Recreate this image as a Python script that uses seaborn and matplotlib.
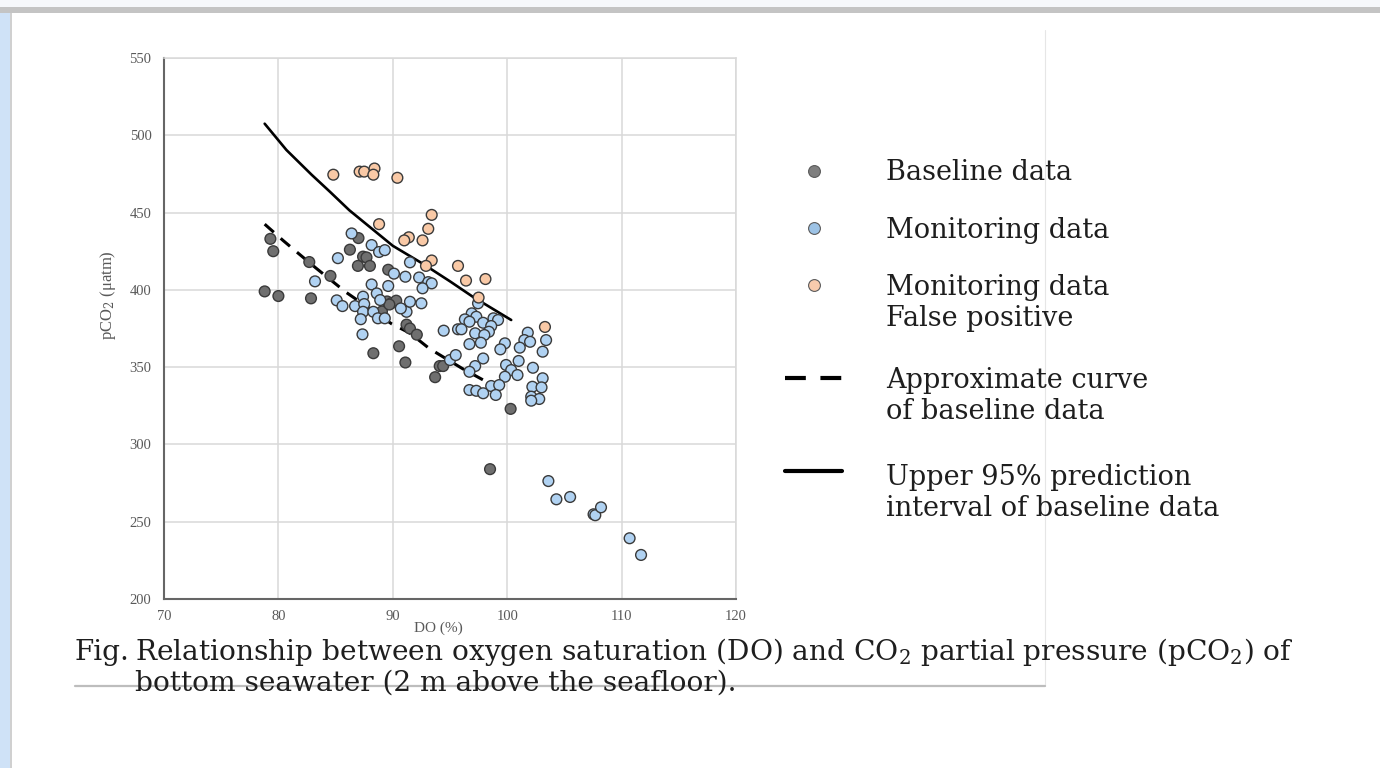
import numpy as np
import pandas as pd
import matplotlib
matplotlib.use("Agg")
import matplotlib.pyplot as plt
import seaborn as sns
from matplotlib.lines import Line2D
from matplotlib.patches import Rectangle

# ---------------- data ----------------
baseline_do = [78.8, 79.3, 79.55, 80.0, 82.7, 82.85, 84.55, 86.25, 87.0, 87.4,
               87.7, 86.95, 88.0, 89.6, 89.05, 89.5, 89.9, 90.3, 89.7, 91.2,
               91.5, 92.1, 90.55, 88.3, 91.1, 94.1, 94.4, 93.7, 98.5, 100.3]
baseline_pco2 = [399, 433, 425, 396, 418, 394.5, 409, 426, 433.5, 421.5,
                 421, 415.5, 415.5, 413, 386, 392.5, 391.5, 393, 390.5, 377.5,
                 375, 371, 363.5, 359, 353, 350.7, 350.7, 343.5, 284, 323]

monitor_do = [86.4, 88.15, 88.8, 89.3, 85.2, 83.2, 88.15, 89.6, 90.1, 88.6,
              87.4, 85.1, 91.5, 91.1, 92.3, 93.1, 93.4, 92.6, 85.6, 86.7,
              87.5, 87.4, 88.3, 87.2, 88.7, 89.3, 87.35, 88.9, 91.2, 91.5,
              92.5, 90.7, 94.45, 95.7, 95.0, 95.5, 97.45, 96.9, 97.3, 96.3,
              96.7, 97.9, 98.8, 99.2, 98.6, 96.0, 98.4, 97.2, 98.0, 97.7,
              96.7, 101.8, 101.5, 102.0, 103.4, 101.1, 103.1, 99.8, 99.4, 97.9,
              101.0, 97.2, 96.7, 99.9, 100.35, 100.9, 102.25, 99.8, 103.1, 102.2,
              103.0, 98.6, 99.3, 96.7, 97.3, 97.9, 99.0, 102.1, 102.8, 102.1,
              103.6, 104.3, 105.5, 107.55, 107.7, 108.2, 110.7, 111.7]
monitor_pco2 = [436.5, 429, 424.5, 425.7, 420.5, 405.5, 403.5, 402.5, 410.5, 397.7,
                395.6, 393.2, 417.8, 408.5, 408, 405, 404.2, 401, 389.5, 389.5,
                390.8, 385.8, 385.8, 381, 381.6, 381.6, 371.2, 393.4, 385.8, 392.3,
                391.3, 388, 373.6, 374.5, 354.6, 357.8, 391.3, 384.8, 382.6, 380.9,
                379.4, 378.7, 381.6, 380.5, 376.6, 374.5, 372.9, 371.9, 370.8, 365.8,
                364.9, 372.3, 367.5, 366.4, 367.5, 362.6, 360, 365.4, 361.5, 355.6,
                354, 350.7, 347, 351.4, 348.1, 344.9, 349.6, 343.8, 342.8, 337.3,
                336.9, 337.8, 338.4, 335.2, 334.7, 333.1, 332, 330.9, 329.4, 328.3,
                276.3, 264.5, 266, 254.8, 254.2, 259.3, 239.3, 228.5]

falsepos_do = [84.8, 87.1, 87.5, 88.4, 88.3, 90.4, 88.8, 93.4, 93.1, 91.4,
               91.0, 92.6, 93.4, 92.9, 95.7, 96.4, 98.1, 97.5, 103.3]
falsepos_pco2 = [474.5, 476.5, 476.5, 478.5, 474.5, 472.5, 442.5, 448.5, 439.5, 434,
                 432, 432, 419, 415.5, 415.5, 406, 407, 395, 376]

curve_do = [78.8, 80.4, 81.6, 83.3, 85.9, 89.9, 91.5, 93.2, 96.1, 97.9, 98.6]
curve_pco2 = [442.5, 432, 424.5, 414, 398.5, 378, 372, 362, 349, 341.7, 338.5]

upper_do = [78.8, 80.7, 82.9, 84.5, 86.2, 90.0, 92.6, 95.0, 97.0, 100.35]
upper_pco2 = [507.5, 490.5, 474.5, 463.5, 451.5, 428.5, 417, 405.5, 395.5, 380.5]

x_ticks = [70, 80, 90, 100, 110, 120]
y_ticks = [200, 250, 300, 350, 400, 450, 500, 550]

group_names = ["Baseline data", "Monitoring data", "Monitoring data\nFalse positive"]
legend_lines = ["Approximate curve\nof baseline data",
                "Upper 95% prediction\ninterval of baseline data"]

caption_fig = "Fig."
caption_1 = "Relationship between oxygen saturation (DO) and CO$_2$ partial pressure (pCO$_2$) of"
caption_2 = "bottom seawater (2 m above the seafloor)."

# ---------------- style ----------------
sns.set_theme(style="white")
plt.rcParams['font.family'] = ['DejaVu Serif']
plt.rcParams['mathtext.fontset'] = 'dejavuserif'

W, H = 1380, 768
fig = plt.figure(figsize=(W / 100, H / 100), dpi=100)
fig.patch.set_facecolor('white')


def fx(px):
    return px / W


def fy(py):
    return 1 - py / H


# page frame decorations
fig.add_artist(Rectangle((0, fy(7)), 1, 7 / H, transform=fig.transFigure,
                         color='#f6f8fb', lw=0, zorder=0))
fig.add_artist(Rectangle((0, fy(13)), 1, 6 / H, transform=fig.transFigure,
                         color='#c4c4c4', lw=0, zorder=0))
fig.add_artist(Rectangle((0, 0), 10 / W, fy(13), transform=fig.transFigure,
                         color='#cfe2f7', lw=0, zorder=0))
fig.add_artist(Rectangle((10 / W, 0), 2 / W, fy(13), transform=fig.transFigure,
                         color='#d0d0d0', lw=0, zorder=0))
fig.add_artist(Line2D([fx(1045), fx(1045)], [fy(30), fy(686)], transform=fig.transFigure,
                      color='#e6e6e6', lw=0.8, zorder=0))
fig.add_artist(Line2D([fx(75), fx(1045)], [fy(686), fy(686)], transform=fig.transFigure,
                      color='#bdbdbd', lw=1.6, zorder=0))

# ---------------- axes ----------------
ax = fig.add_axes([fx(164), fy(599), (736 - 164) / W, (599 - 58) / H])
ax.set_facecolor('white')

df = pd.DataFrame({
    'DO': baseline_do + monitor_do + falsepos_do,
    'pCO2': baseline_pco2 + monitor_pco2 + falsepos_pco2,
    'group': [group_names[0]] * len(baseline_do) + [group_names[1]] * len(monitor_do)
             + [group_names[2]] * len(falsepos_do),
})
palette = {group_names[0]: '#6f6f6f', group_names[1]: '#b0d2f2', group_names[2]: '#f9c9a6'}

sns.lineplot(x=curve_do, y=curve_pco2, ax=ax, color='black', lw=2.2,
             linestyle=(0, (4, 3)), estimator=None, sort=False, zorder=2)
sns.lineplot(x=upper_do, y=upper_pco2, ax=ax, color='black', lw=1.9,
             estimator=None, sort=False, zorder=2)
sns.scatterplot(data=df, x='DO', y='pCO2', hue='group', hue_order=group_names,
                palette=palette, s=60, edgecolor='#3a3a3a', linewidth=1.0,
                legend=False, ax=ax, zorder=3)

ax.set_xlim(70, 120)
ax.set_ylim(200, 550)
ax.set_xticks(x_ticks, labels=[str(t) for t in x_ticks], fontfamily='Liberation Serif')
ax.set_yticks(y_ticks, labels=[str(t) for t in y_ticks], fontfamily='Liberation Serif')
ax.tick_params(axis='both', length=0, labelsize=10.5, labelcolor='#595959')
ax.tick_params(axis='x', pad=8)
ax.tick_params(axis='y', pad=9)
ax.grid(True, color='#d9d9d9', lw=1.1)
ax.set_axisbelow(True)
for side in ['left', 'bottom']:
    ax.spines[side].set_color('#666666')
    ax.spines[side].set_linewidth(1.5)
for side in ['top', 'right']:
    ax.spines[side].set_color('#d9d9d9')
    ax.spines[side].set_linewidth(1.1)

ax.set_xlabel("DO (%)", fontfamily='Liberation Serif', fontsize=11, color='#595959')
ax.set_ylabel("pCO$_2$ (μatm)", fontfamily='Liberation Serif', fontsize=12, color='#595959')
ax.xaxis.set_label_coords((438 - 164) / 572, -(622 - 599) / 541)
ax.yaxis.set_label_coords((118 - 164) / 572, (599 - 295) / 541)

# ---------------- legend (drawn manually) ----------------
leg_fs = 19.5
txt_col = '#1e1e1e'
legend_marker_cols = ['#7f7f7f', '#9dc3e6', '#f8cbad']
marker_y = [171, 228, 285]
for col, my in zip(legend_marker_cols, marker_y):
    fig.add_artist(Line2D([fx(814)], [fy(my)], transform=fig.transFigure, marker='o',
                          markersize=8.5, markerfacecolor=col, markeredgecolor='#5a5a5a',
                          markeredgewidth=0.8, linestyle='none'))
fig.add_artist(Line2D([fx(785), fx(842)], [fy(378), fy(378)], transform=fig.transFigure,
                      color='black', lw=3.0, linestyle=(0, (5, 3.5))))
fig.add_artist(Line2D([fx(785), fx(842)], [fy(471), fy(471)], transform=fig.transFigure,
                      color='black', lw=3.0))

legend_text_rows = [
    (group_names[0], [180]),
    (group_names[1], [238]),
    (group_names[2], [295, 326]),
    (legend_lines[0], [388, 419]),
    (legend_lines[1], [485, 516]),
]
for label, baselines in legend_text_rows:
    for line, by in zip(label.split("\n"), baselines):
        fig.text(fx(886), fy(by), line, fontsize=leg_fs, color=txt_col,
                 ha='left', va='baseline', family='DejaVu Serif')

# ---------------- caption ----------------
cap_fs = 20.2
fig.text(fx(75), fy(660), caption_fig, fontsize=cap_fs, color=txt_col,
         ha='left', va='baseline', family='DejaVu Serif')
fig.text(fx(135), fy(660), caption_1, fontsize=cap_fs, color=txt_col,
         ha='left', va='baseline', family='DejaVu Serif')
fig.text(fx(135), fy(691), caption_2, fontsize=cap_fs, color=txt_col,
         ha='left', va='baseline', family='DejaVu Serif')

fig.savefig("out.png", dpi=100, facecolor=fig.get_facecolor())
